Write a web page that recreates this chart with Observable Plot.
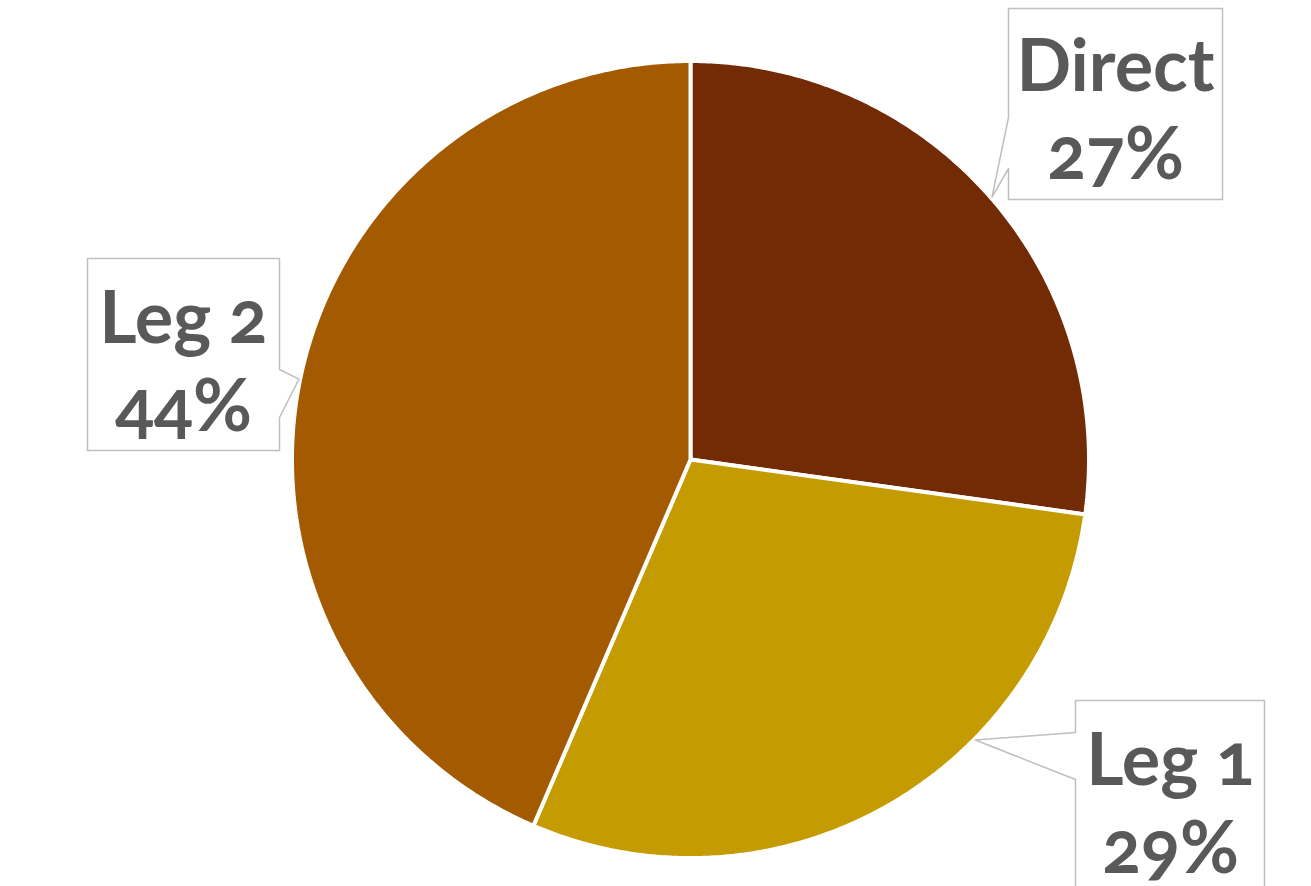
<!DOCTYPE html>
<html>
<head>
<meta charset="utf-8">
<script src="https://cdn.jsdelivr.net/npm/d3@7"></script>
<script src="https://cdn.jsdelivr.net/npm/@observablehq/plot@0.6"></script>
<style>
  html, body { margin: 0; padding: 0; background: #fff; overflow: hidden; }
  #chart svg { display: block; }
  #chart text { font-variant-numeric: oldstyle-nums; font-feature-settings: "onum" 1; }
</style>
</head>
<body>
<div id="chart"></div>
<script>
// ---- data ----
const categories = ["Direct", "Leg 1", "Leg 2"];
const shares = [27.2, 29.25, 43.55];
const colors = ["#722B05", "#C49B00", "#A35A00"];

// ---- layout (pixels) ----
const W = 1311, H = 886;
const CX = 690, CY = 459, R = 398.5;
// callout boxes: [left, top, right, bottom], notch side, notch y-range, text center
const callouts = {
  "Direct": {box: [1008, 8, 1222, 199], side: "left", notch: [117, 168], text: [1115, 106], tipShift: 0},
  "Leg 1":  {box: [1075, 700, 1264, 902], side: "left", notch: [732, 779], text: [1170, 800], tipShift: -16},
  "Leg 2":  {box: [87, 258, 279, 450], side: "right", notch: [369, 417], text: [183, 358], tipShift: 0}
};
const toData = ([px, py]) => [(px - CX) / R, (CY - py) / R];

// ---- pie geometry from values ----
const total = d3.sum(shares);
const pieRows = [];
const tips = {};
let acc = 0;
categories.forEach((c, i) => {
  const a0 = acc / total * 2 * Math.PI;
  acc += shares[i];
  const a1 = acc / total * 2 * Math.PI;
  pieRows.push({slice: c, x: 0, y: 0});
  const n = Math.max(2, Math.ceil((a1 - a0) / (Math.PI / 360)));
  for (let k = 0; k <= n; k++) {
    const a = a0 + (a1 - a0) * k / n;
    pieRows.push({slice: c, x: Math.sin(a), y: Math.cos(a)});
  }
  pieRows.push({slice: c, x: 0, y: 0});
  const am = (a0 + a1) / 2 + callouts[c].tipShift * Math.PI / 180;
  tips[c] = [Math.sin(am) * 1.003, Math.cos(am) * 1.003];
});

// ---- callout polygons ----
const boxRows = [];
const labelRows = [];
categories.forEach((c, i) => {
  const o = callouts[c];
  const [l, t, r, b] = o.box;
  const tip = tips[c];
  let pts;
  if (o.side === "left") {
    pts = [[l, t], [r, t], [r, b], [l, b], [l, o.notch[1]]].map(toData);
    pts.push(tip);
    pts.push(toData([l, o.notch[0]]));
    pts.push(toData([l, t]));
  } else {
    pts = [[l, t], [r, t], [r, o.notch[0]]].map(toData);
    pts.push(tip);
    pts.push(toData([r, o.notch[1]]));
    pts.push(...[[r, b], [l, b], [l, t]].map(toData));
  }
  pts.forEach(([x, y]) => boxRows.push({slice: c, x, y}));
  const [tx, ty] = toData(o.text);
  labelRows.push({slice: c, x: tx, y: ty, text: `${c}\n${Math.round(shares[i] / total * 100)}%`});
});

const chart = Plot.plot({
  width: W,
  height: H,
  marginLeft: CX - R,
  marginRight: W - (CX + R),
  marginTop: CY - R,
  marginBottom: H - (CY + R),
  x: {domain: [-1, 1], axis: null},
  y: {domain: [-1, 1], axis: null},
  color: {domain: categories, range: colors},
  style: {background: "#fff", overflow: "visible"},
  marks: [
    Plot.line(pieRows, {x: "x", y: "y", z: "slice", fill: "slice", stroke: "#fff", strokeWidth: 4, strokeLinejoin: "miter", curve: "linear"}),
    Plot.line(boxRows, {x: "x", y: "y", z: "slice", fill: "#fff", fillOpacity: 0, stroke: "#BFBFBF", strokeWidth: 1.5, curve: "linear"}),
    Plot.text(labelRows, {x: "x", y: "y", text: "text", fill: "#595959", fontSize: 72, fontWeight: "bold", fontFamily: "Lato, 'Open Sans', sans-serif", lineHeight: 1.22, textAnchor: "middle"})
  ]
});
document.getElementById("chart").append(chart);
</script>
</body>
</html>
